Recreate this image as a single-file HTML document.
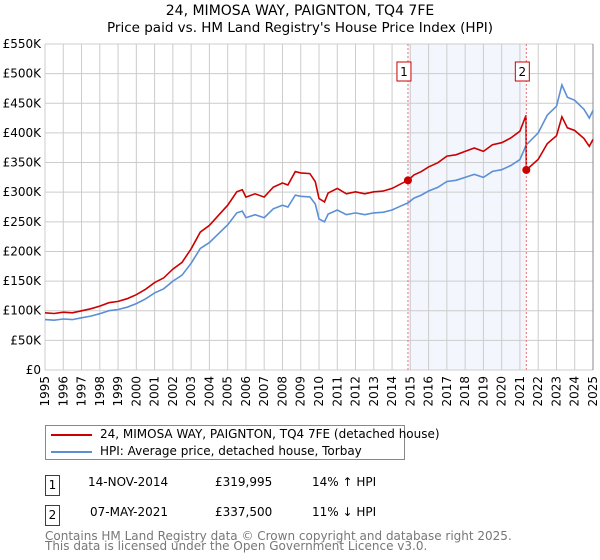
<!DOCTYPE html>
<html><head><meta charset="utf-8"><style>
body{margin:0;background:#fff;font-family:"DejaVu Sans","Liberation Sans",sans-serif;}
#wrap{position:relative;width:600px;height:560px;overflow:hidden}
.t{position:absolute;font-size:12px;color:#000;white-space:nowrap}
.badge{position:absolute;width:13px;height:19px;border:1px solid #c00;font-size:12px;text-align:center;line-height:19px}
</style></head><body>
<div id="wrap">
<svg id="svg" width="600" height="420" style="position:absolute;left:0;top:0"></svg>
<div style="position:absolute;left:45px;top:425px;width:360px;height:35px;border:1px solid #888;box-sizing:border-box">
 <div style="position:absolute;left:5px;top:8px;width:41px;height:2px;background:#c00"></div>
 <div class="t" style="left:54px;top:1px">24, MIMOSA WAY, PAIGNTON, TQ4 7FE (detached house)</div>
 <div style="position:absolute;left:5px;top:25px;width:41px;height:2px;background:#5b8fd6"></div>
 <div class="t" style="left:54px;top:18px">HPI: Average price, detached house, Torbay</div>
</div>
<div class="badge" style="left:45px;top:475px">1</div>
<div class="t" style="left:88px;top:475px">14-NOV-2014</div>
<div class="t" style="left:215px;top:475px">£319,995</div>
<div class="t" style="left:312px;top:475px">14% ↑ HPI</div>
<div class="badge" style="left:45px;top:505px">2</div>
<div class="t" style="left:90px;top:505px">07-MAY-2021</div>
<div class="t" style="left:215px;top:505px">£337,500</div>
<div class="t" style="left:312px;top:505px">11% ↓ HPI</div>
<div class="t" style="left:45px;top:531px;color:#777;line-height:10px">Contains HM Land Registry data © Crown copyright and database right 2025.<br>This data is licensed under the Open Government Licence v3.0.</div>
</div>
<script>
const hpiYears=[1995,1995.5,1996,1996.5,1997,1997.5,1998,1998.5,1999,1999.5,2000,2000.5,2001,2001.5,2002,2002.5,2003,2003.5,2004,2004.5,2005,2005.5,2005.8,2006,2006.5,2007,2007.5,2008,2008.3,2008.7,2009,2009.5,2009.8,2010,2010.3,2010.5,2011,2011.5,2012,2012.5,2013,2013.5,2014,2014.5,2014.87,2015.2,2015.6,2016,2016.5,2017,2017.5,2018,2018.5,2019,2019.5,2020,2020.5,2021,2021.35,2022,2022.5,2023,2023.3,2023.6,2024,2024.5,2024.8,2025];
const hpiValues=[85,84,86,85,88,91,95,100,102,106,112,120,130,137,150,160,180,205,215,230,245,265,268,257,262,257,272,278,275,295,293,292,280,255,250,263,270,262,265,262,265,266,270,277,282,290,295,302,308,318,320,325,330,325,335,338,345,355,380,400,430,445,481,460,455,440,425,438];
const saleYears=[2014.87,2021.35];
const salePrices=[319995,337500];
const saleLabels=["1","2"];
const yTicks=[0,50,100,150,200,250,300,350,400,450,500,550];
const yTickLabels=["£0","£50K","£100K","£150K","£200K","£250K","£300K","£350K","£400K","£450K","£500K","£550K"];
const xYears=[];for(let y=1995;y<=2025;y++)xYears.push(y);

const NS="http://www.w3.org/2000/svg",svg=document.getElementById('svg');
const X0=45,X1=593,Y0=370,Y1=44;
const xs=y=>X0+(y-1995)/30*(X1-X0);
const ys=v=>Y0-v/550*(Y0-Y1);
function mk(tag,at){const e=document.createElementNS(NS,tag);for(const k in at)e.setAttribute(k,at[k]);svg.appendChild(e);return e;}
function hpiAt(y){for(let i=1;i<hpiYears.length;i++){if(y<=hpiYears[i]){const t=(y-hpiYears[i-1])/(hpiYears[i]-hpiYears[i-1]);return hpiValues[i-1]+t*(hpiValues[i]-hpiValues[i-1]);}}return hpiValues[hpiValues.length-1];}
const title=mk('text',{x:300,y:15,'text-anchor':'middle','font-size':14});title.textContent="24, MIMOSA WAY, PAIGNTON, TQ4 7FE";

const sub=mk('text',{x:300,y:32,'text-anchor':'middle','font-size':13.5});sub.textContent="Price paid vs. HM Land Registry's House Price Index (HPI)";

const band=mk('rect',{x:xs(saleYears[0]),y:Y1,width:xs(saleYears[1])-xs(saleYears[0]),height:Y0-Y1,fill:'#eef3fc',opacity:0.7});

yTicks.forEach((v,i)=>{const l=mk('line',{x1:X0,x2:X1,y1:ys(v),y2:ys(v),stroke:'#ccc','stroke-width':1});

const tx=mk('text',{x:X0-4,y:ys(v)+4,'text-anchor':'end','font-size':12});tx.textContent=yTickLabels[i];
});
xYears.forEach(y=>{const l=mk('line',{x1:xs(y),x2:xs(y),y1:Y1,y2:Y0,stroke:'#ccc','stroke-width':1});

const tx=mk('text',{x:0,y:0,'text-anchor':'end','font-size':12,transform:`translate(${xs(y)+4},${Y0+6}) rotate(-90)`});tx.textContent=y;
});
const ax=mk('line',{x1:X1,x2:X1,y1:Y1,y2:Y0,stroke:'#888'});
const hp=hpiYears.map((y,i)=>xs(y).toFixed(1)+','+ys(hpiValues[i]).toFixed(1)).join(' ');
const hl=mk('polyline',{points:hp,fill:'none',stroke:'#5b8fd6','stroke-width':1.6});

const r0=salePrices[0]/1000/hpiAt(saleYears[0]),r1=salePrices[1]/1000/hpiAt(saleYears[1]);
const pts=[];
hpiYears.forEach((y,i)=>{if(y<saleYears[1])pts.push([y,hpiValues[i]*r0]);});
pts.push([saleYears[1]-0.02,hpiAt(saleYears[1]-0.02)*r0]);
pts.push([saleYears[1],salePrices[1]/1000]);
hpiYears.forEach((y,i)=>{if(y>saleYears[1])pts.push([y,hpiValues[i]*r1]);});
const pl=mk('polyline',{points:pts.map(p=>xs(p[0]).toFixed(1)+','+ys(p[1]).toFixed(1)).join(' '),fill:'none',stroke:'#c00','stroke-width':1.6});

saleYears.forEach((y,i)=>{
const vl=mk('line',{x1:xs(y),x2:xs(y),y1:Y1,y2:Y0,stroke:'#f07070','stroke-dasharray':'2,2','stroke-width':1});

const c=mk('circle',{cx:xs(y),cy:ys(salePrices[i]/1000),r:4,fill:'#c00'});

const b=mk('rect',{x:xs(y)-11,y:62,width:14,height:19,fill:'#fff',stroke:'#c00'});

const bt=mk('text',{x:xs(y)-4,y:76,'text-anchor':'middle','font-size':12});bt.textContent=saleLabels[i];
});
</script>
</body></html>
